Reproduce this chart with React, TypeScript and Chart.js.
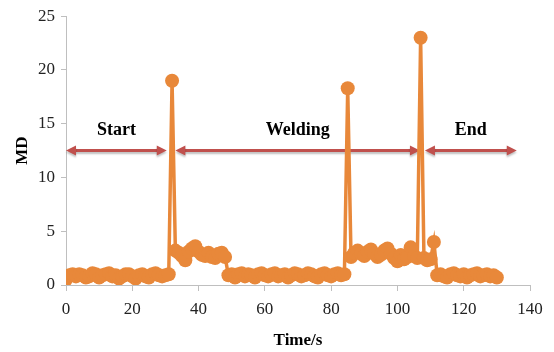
import React, { useEffect, useRef } from "react";
import { Chart, registerables } from "chart.js";

Chart.register(...registerables);

// Sample interval (s) between MD samples
const sampleInterval = 1;

// MD values by phase (one sample per second, starting at t = 0)
const startPhase = [
  0.5, 0.9, 1.0, 0.8, 1.0, 0.9, 0.7, 0.8, 1.1, 1.0,
  0.7, 0.9, 1.0, 1.1, 0.8, 0.9, 0.6, 0.8, 1.0, 1.0,
  0.8, 0.6, 0.9, 1.0, 0.8, 0.7, 1.0, 1.1, 0.9, 0.8,
  0.9, 1.0,
];
const spikeA = [19.0];
const weldingA = [3.2, 3.0, 2.7, 2.3, 3.1, 3.4, 3.6, 3.1, 2.8, 2.7, 3.0, 2.6, 2.5, 2.9, 3.0, 2.6];
const middleLow = [
  0.9, 1.0, 0.7, 1.0, 1.1, 0.8, 1.0, 0.9, 0.7, 1.0,
  1.1, 0.9, 0.8, 1.0, 1.1, 0.8, 0.9, 1.0, 0.7, 0.9,
  1.1, 1.0, 0.8, 0.9, 1.1, 1.0, 0.8, 0.7, 1.0, 1.1,
  0.9, 0.8, 1.0, 1.1, 0.9, 1.0,
];
const spikeB = [18.3];
const weldingB = [2.6, 3.0, 3.2, 2.9, 2.7, 3.1, 3.3, 2.9, 2.6, 2.8, 3.2, 3.4, 2.9, 2.5, 2.2, 2.8, 2.4, 2.6, 3.5, 2.7, 2.5];
const spikeC = [23.0];
const weldingC = [2.5, 2.3, 2.4, 4.0];
const endPhase = [0.9, 1.0, 0.8, 0.7, 1.0, 1.1, 0.9, 0.8, 1.0, 0.7, 0.9, 1.0, 1.1, 0.8, 0.9, 1.0, 0.8, 0.9, 0.7];

const mdValues = [
  ...startPhase, ...spikeA, ...weldingA, ...middleLow, ...spikeB,
  ...weldingB, ...spikeC, ...weldingC, ...endPhase,
];

// Phase annotation arrows (time in s, MD level)
const phaseLabels = ["Start", "Welding", "End"];
const phaseFrom = [0, 33, 108.3];
const phaseTo = [30.4, 106.8, 136];
const arrowLevel = 12.5;
const labelLevel = 14.4;

// Axes
const xMin = 0, xMax = 140, xStep = 20;
const yMin = 0, yMax = 25, yStep = 5;
const xTitle = "Time/s";
const yTitle = "MD";

const ORANGE = "#E8883A";
const ARROW = "#C0504D";
const AXIS = "#BFBFBF";
const SERIF = "'Liberation Serif', 'Times New Roman', serif";

const arrowPlugin = {
  id: "phaseArrows",
  beforeDatasetsDraw(chart: any) {
    const { ctx, scales } = chart;
    const xs = scales.x, ys = scales.y;
    const yA = ys.getPixelForValue(arrowLevel);
    const yL = ys.getPixelForValue(labelLevel);
    ctx.save();
    for (let i = 0; i < phaseLabels.length; i++) {
      const x1 = xs.getPixelForValue(phaseFrom[i]);
      const x2 = xs.getPixelForValue(phaseTo[i]);
      const head = 10, hw = 5;
      ctx.shadowColor = "rgba(0,0,0,0.25)";
      ctx.shadowBlur = 2;
      ctx.shadowOffsetY = 2;
      ctx.strokeStyle = ARROW;
      ctx.fillStyle = ARROW;
      ctx.lineWidth = 3;
      ctx.beginPath();
      ctx.moveTo(x1 + head - 1, yA);
      ctx.lineTo(x2 - head + 1, yA);
      ctx.stroke();
      ctx.beginPath();
      ctx.moveTo(x1, yA);
      ctx.lineTo(x1 + head, yA - hw);
      ctx.lineTo(x1 + head, yA + hw);
      ctx.closePath();
      ctx.fill();
      ctx.beginPath();
      ctx.moveTo(x2, yA);
      ctx.lineTo(x2 - head, yA - hw);
      ctx.lineTo(x2 - head, yA + hw);
      ctx.closePath();
      ctx.fill();
      ctx.shadowColor = "rgba(0,0,0,0)";
      ctx.fillStyle = "#000";
      ctx.font = `bold 18px ${SERIF}`;
      ctx.textAlign = "center";
      ctx.textBaseline = "middle";
      ctx.fillText(phaseLabels[i], (x1 + x2) / 2, yL);
    }
    ctx.restore();
  },
};

export default function App() {
  const ref = useRef<HTMLCanvasElement | null>(null);
  useEffect(() => {
    if (!ref.current) return;
    const points = mdValues.map((v, i) => ({ x: i * sampleInterval, y: v }));
    const tickFont = { family: SERIF, size: 17 };
    const chart = new Chart(ref.current, {
      type: "line",
      data: {
        datasets: [
          {
            data: points,
            borderColor: ORANGE,
            backgroundColor: ORANGE,
            borderWidth: 3.5,
            pointRadius: 7,
            pointBorderWidth: 0,
            pointBackgroundColor: ORANGE,
            tension: 0,
          },
        ],
      },
      options: {
        responsive: false,
        animation: false,
        layout: { padding: { left: 0, right: 24, top: 16, bottom: 0 } },
        plugins: { legend: { display: false }, tooltip: { enabled: false } },
        scales: {
          x: {
            type: "linear",
            min: xMin,
            max: xMax,
            afterFit: (s: any) => { s.height = 67; },
            ticks: { stepSize: xStep, font: tickFont, color: "#222", padding: 8 },
            grid: { drawOnChartArea: false, drawTicks: true, tickLength: 6, color: AXIS },
            border: { color: AXIS, width: 1 },
            title: {
              display: true,
              text: xTitle,
              color: "#000",
              font: { family: SERIF, size: 17, weight: "bold" },
              padding: { top: 0, bottom: 1 },
            },
          },
          y: {
            type: "linear",
            min: yMin,
            max: yMax,
            afterFit: (s: any) => { s.width = 66; },
            ticks: { stepSize: yStep, font: tickFont, color: "#222", padding: 6 },
            grid: { drawOnChartArea: false, drawTicks: true, tickLength: 5, color: AXIS },
            border: { color: AXIS, width: 1 },
            title: {
              display: true,
              text: yTitle,
              color: "#000",
              font: { family: SERIF, size: 17, weight: "bold" },
              padding: { top: 12, bottom: 0 },
            },
          },
        },
      },
      plugins: [arrowPlugin],
    });
    return () => chart.destroy();
  }, []);
  return (
    <div style={{ position: "fixed", left: 0, top: 0, width: 554, height: 352, background: "#fff" }}>
      <canvas ref={ref} width={554} height={352} />
    </div>
  );
}
